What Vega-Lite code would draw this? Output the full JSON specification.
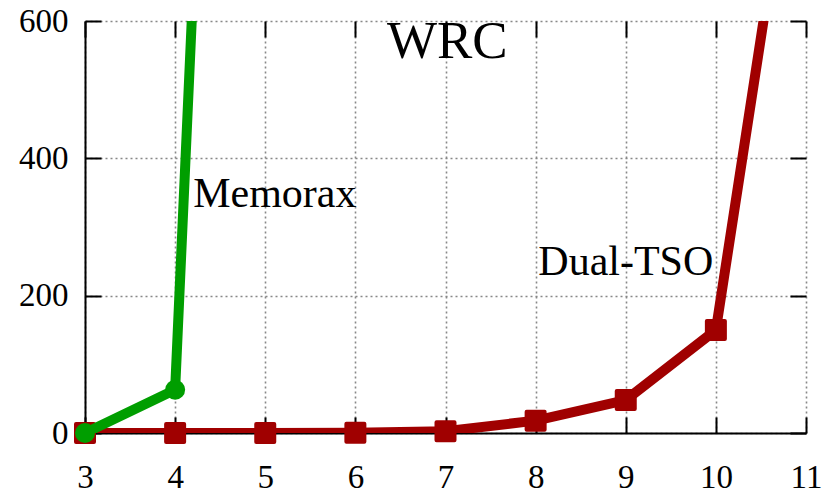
{
  "$schema": "https://vega.github.io/schema/vega-lite/v6.json",
  "width": 721,
  "height": 412,
  "autosize": {"type": "none"},
  "padding": {"left": 85, "top": 21, "right": 16, "bottom": 60},
  "background": "white",
  "config": {
    "view": {"stroke": null},
    "font": "Liberation Serif",
    "axis": {
      "labelFont": "Liberation Serif",
      "labelFontSize": 33,
      "labelColor": "black",
      "title": null,
      "tickColor": "black",
      "tickWidth": 2,
      "tickSize": 16,
      "domainColor": "black",
      "domainWidth": 2,
      "gridColor": "#888888",
      "gridDash": [2, 3],
      "gridWidth": 1.6,
      "gridOpacity": 1,
      "labelOverlap": false
    }
  },
  "datasets": {
    "series": [
      {"tool": "Memorax", "x": 3, "y": 0},
      {"tool": "Memorax", "x": 4, "y": 63},
      {"tool": "Memorax", "x": 5, "y": 2980},
      {"tool": "Dual-TSO", "x": 3, "y": 0},
      {"tool": "Dual-TSO", "x": 4, "y": 0},
      {"tool": "Dual-TSO", "x": 5, "y": 0},
      {"tool": "Dual-TSO", "x": 6, "y": 0.5},
      {"tool": "Dual-TSO", "x": 7, "y": 2.5},
      {"tool": "Dual-TSO", "x": 8, "y": 18},
      {"tool": "Dual-TSO", "x": 9, "y": 48},
      {"tool": "Dual-TSO", "x": 10, "y": 150},
      {"tool": "Dual-TSO", "x": 11, "y": 1002}
    ],
    "labels": [
      {"label": "Memorax", "x": 4.2, "y": 329, "kind": "series"},
      {"label": "Dual-TSO", "x": 8.03, "y": 230, "kind": "series"},
      {"label": "WRC", "x": 7.02, "y": 546, "kind": "title"}
    ]
  },
  "layer": [
    {
      "data": {"name": "series"},
      "transform": [{"filter": "datum.tool === 'Dual-TSO'"}],
      "mark": {"type": "line", "color": "#a00000", "strokeWidth": 10, "clip": true, "strokeCap": "round", "strokeJoin": "round"},
      "encoding": {
        "x": {"field": "x", "type": "quantitative", "scale": {"domain": [3, 11], "nice": false, "zero": false},
          "axis": {"orient": "bottom", "values": [3,4,5,6,7,8,9,10,11], "grid": true, "ticks": false, "labelPadding": 28, "labelFlush": false}},
        "y": {"field": "y", "type": "quantitative", "scale": {"domain": [0, 600], "nice": false},
          "axis": {"orient": "left", "values": [0, 200, 400, 600], "grid": true, "ticks": false, "labelPadding": 17, "labelFlush": false}}
      }
    },
    {
      "data": {"name": "series"},
      "transform": [{"filter": "datum.tool === 'Dual-TSO' && datum.y <= 600"}],
      "mark": {"type": "point", "shape": "square", "filled": true, "color": "#a00000", "stroke": "#a00000", "strokeWidth": 4, "strokeJoin": "round", "size": 324, "opacity": 1, "clip": false},
      "encoding": {
        "x": {"field": "x", "type": "quantitative",
          "axis": {"orient": "top", "offset": -412, "values": [3,4,5,6,7,8,9,10,11], "grid": false, "labels": false, "domain": false}},
        "y": {"field": "y", "type": "quantitative",
          "axis": {"orient": "right", "offset": -721, "values": [0, 200, 400, 600], "grid": false, "labels": false, "domain": false}}
      }
    },
    {
      "data": {"name": "series"},
      "transform": [{"filter": "datum.tool === 'Memorax'"}],
      "mark": {"type": "line", "color": "#009e00", "strokeWidth": 10, "clip": true, "strokeCap": "round", "strokeJoin": "round"},
      "encoding": {
        "x": {"field": "x", "type": "quantitative",
          "axis": {"orient": "bottom", "offset": -412, "values": [3,4,5,6,7,8,9,10,11], "grid": false, "labels": false, "domain": false}},
        "y": {"field": "y", "type": "quantitative",
          "axis": {"orient": "left", "offset": -721, "values": [0, 200, 400, 600], "grid": false, "labels": false, "domain": false}}
      }
    },
    {
      "data": {"name": "series"},
      "transform": [{"filter": "datum.tool === 'Memorax' && datum.y <= 600"}],
      "mark": {"type": "circle", "color": "#009e00", "size": 400, "opacity": 1, "clip": false},
      "encoding": {
        "x": {"field": "x", "type": "quantitative", "axis": null},
        "y": {"field": "y", "type": "quantitative", "axis": null}
      }
    },
    {
      "data": {"name": "labels"},
      "transform": [{"filter": "datum.kind === 'series'"}],
      "mark": {"type": "text", "align": "left", "baseline": "alphabetic", "fontSize": 42, "font": "Liberation Serif", "color": "black"},
      "encoding": {
        "x": {"field": "x", "type": "quantitative", "axis": null},
        "y": {"field": "y", "type": "quantitative", "axis": null},
        "text": {"field": "label"}
      }
    },
    {
      "data": {"name": "labels"},
      "transform": [{"filter": "datum.kind === 'title'"}],
      "mark": {"type": "text", "align": "center", "baseline": "alphabetic", "fontSize": 53, "font": "Liberation Serif", "color": "black"},
      "encoding": {
        "x": {"field": "x", "type": "quantitative", "axis": null},
        "y": {"field": "y", "type": "quantitative", "axis": null},
        "text": {"field": "label"}
      }
    }
  ],
  "resolve": {"axis": {"x": "independent", "y": "independent"}}
}
